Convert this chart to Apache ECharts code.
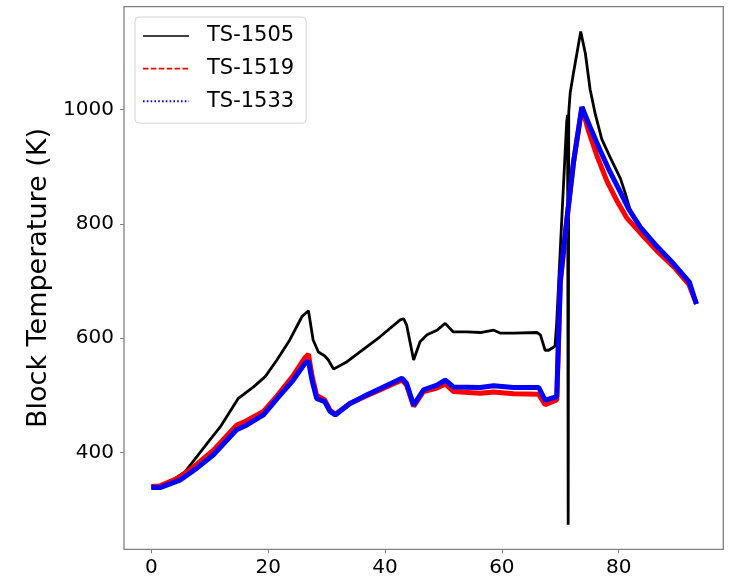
<!DOCTYPE html>
<html>
<head>
<meta charset="utf-8">
<script src="https://cdn.jsdelivr.net/npm/echarts@6/dist/echarts.min.js"></script>
<style>html,body{margin:0;padding:0;background:#fff}#c{width:733px;height:579px}</style>
</head>
<body>
<div id="c"></div>
<script>
// ---- data ----
const xTicks = [0, 20, 40, 60, 80];
const yTicks = [400, 600, 800, 1000];
const seriesNames = ['TS-1505', 'TS-1519', 'TS-1533'];

const ts1505X = [0, 1.5, 3.2, 5.8, 7.8, 10.0, 11.8, 14.9, 17.5, 19.5, 21.5, 23.7, 25.8, 26.9, 27.2, 27.7, 28.6, 29.7, 30.3, 31.2, 33.5, 39.2, 42.6, 43.2, 43.7, 44.9, 46.0, 47.2, 48.9, 50.3, 51.7, 54.0, 56.3, 58.6, 59.7, 62.0, 66.0, 66.6, 67.4, 68.0, 69.1, 69.4, 70.3, 71.1, 71.25, 71.35, 71.45, 71.7, 72.3, 73.5, 74.3, 75.1, 76.0, 77.1, 78.5, 80.3, 81.1, 82.0, 83.7, 86.0, 88.8, 92.1, 93.3];
const ts1505Y = [340, 342, 349, 367, 393, 422, 445, 495, 515, 533, 562, 597, 638, 648, 646, 597, 576, 569, 562, 546, 559, 603, 632, 634, 623, 562, 594, 606, 614, 626, 611, 611, 610, 614, 609, 609, 610, 606, 579, 579, 586, 630, 817, 979, 990, 274, 995, 1029, 1066, 1136, 1097, 1035, 991, 948, 917, 879, 854, 823, 792, 760, 729, 698, 660];

const ts1519X = [0, 1.5, 4.9, 7.8, 10.6, 14.6, 16.3, 19.2, 21.5, 24.3, 26.3, 26.9, 27.5, 28.3, 29.7, 30.6, 31.5, 34.0, 36.3, 39.2, 42.9, 43.7, 44.9, 46.6, 48.9, 50.3, 51.7, 56.3, 58.6, 62.0, 66.3, 67.4, 69.4, 70.0, 71.1, 72.3, 73.7, 74.8, 76.3, 78.0, 79.7, 81.4, 83.7, 86.5, 89.4, 92.0, 93.3];
const ts1519Y = [341, 342, 357, 380, 404, 448, 456, 472, 499, 535, 566, 572, 535, 500, 492, 474, 467, 486, 497, 510, 527, 518, 481, 507, 513, 520, 507, 504, 506, 503, 502, 484, 492, 695, 805, 910, 1004, 963, 918, 874, 840, 810, 784, 753, 725, 694, 660];

const ts1533X = [0, 1.5, 4.9, 7.8, 10.6, 14.6, 16.3, 19.2, 21.5, 24.3, 26.3, 26.9, 27.5, 28.3, 29.7, 30.6, 31.5, 34.0, 36.3, 39.2, 42.9, 43.7, 44.9, 46.6, 48.9, 50.3, 51.7, 56.3, 58.6, 62.0, 66.3, 67.4, 69.4, 70.0, 71.1, 72.3, 73.7, 75.1, 76.8, 78.5, 80.3, 81.7, 83.7, 86.5, 89.4, 92.1, 93.3];
const ts1533Y = [339, 339, 352, 373, 396, 440, 448, 466, 494, 527, 556, 560, 527, 495, 489, 472, 466, 486, 498, 512, 530, 521, 483, 510, 518, 527, 515, 514, 517, 514, 514, 492, 498, 702, 805, 910, 1004, 969, 929, 891, 855, 826, 794, 761, 730, 698, 660];

function pairs(xs, ys) { return xs.map((x, i) => [x, ys[i]]); }

const FONT = 'DejaVu Sans';
const chart = echarts.init(document.getElementById('c'), null, {renderer: 'canvas'});
chart.setOption({
  animation: false,
  backgroundColor: '#ffffff',
  grid: {left: 124, right: 9.7, top: 6.7, bottom: 29.7, show: true, borderColor: '#808080', borderWidth: 1.3, backgroundColor: 'transparent'},
  xAxis: {
    type: 'value', min: -4.67, max: 97.9,
    splitLine: {show: false},
    axisLine: {show: false, onZero: false},
    axisTick: {show: true, length: 4, lineStyle: {color: '#808080', width: 1}, customValues: xTicks},
    axisLabel: {customValues: xTicks, fontFamily: FONT, fontSize: 20, color: '#000', margin: 8, formatter: v => String(v)}
  },
  yAxis: {
    type: 'value', min: 231.2, max: 1179.3,
    name: 'Block Temperature (K)', nameLocation: 'middle', nameGap: 59,
    nameTextStyle: {fontFamily: FONT, fontSize: 27, color: '#000'},
    splitLine: {show: false},
    axisLine: {show: false, onZero: false},
    axisTick: {show: true, length: 4, lineStyle: {color: '#808080', width: 1}, customValues: yTicks},
    axisLabel: {customValues: yTicks, fontFamily: FONT, fontSize: 20, color: '#000', margin: 10, formatter: v => String(v)}
  },
  legend: {
    show: true,
    orient: 'vertical', left: 135, top: 17,
    padding: [7, 12, 10, 7],
    backgroundColor: 'rgba(255,255,255,0.8)', borderColor: '#d5d5d5', borderWidth: 1, borderRadius: 4,
    itemWidth: 46, itemHeight: 14, itemGap: 8.6,
    itemStyle: {opacity: 0},
    textStyle: {fontFamily: FONT, fontSize: 21, color: '#000', lineHeight: 24, padding: [0, 0, 0, 13]},
    data: [
      {name: seriesNames[0], lineStyle: {width: 1.6, color: '#000', type: 'solid'}},
      {name: seriesNames[1], lineStyle: {width: 1.8, color: '#ff0000', type: [5.5, 2.4]}},
      {name: seriesNames[2], lineStyle: {width: 2, color: '#0000ff', type: [1.6, 2.2]}}
    ]
  },
  series: [
    {name: seriesNames[0], type: 'line', symbol: 'none', data: pairs(ts1505X, ts1505Y), lineStyle: {color: '#000', width: 2.8}, itemStyle: {color: '#000'}, z: 2},
    {name: seriesNames[1], type: 'line', symbol: 'none', data: pairs(ts1519X, ts1519Y), lineStyle: {color: '#ff0000', width: 5}, itemStyle: {color: '#ff0000'}, z: 3},
    {name: seriesNames[2], type: 'line', symbol: 'none', data: pairs(ts1533X, ts1533Y), lineStyle: {color: '#0000ff', width: 5}, itemStyle: {color: '#0000ff'}, z: 4}
  ]
});
</script>
</body>
</html>
